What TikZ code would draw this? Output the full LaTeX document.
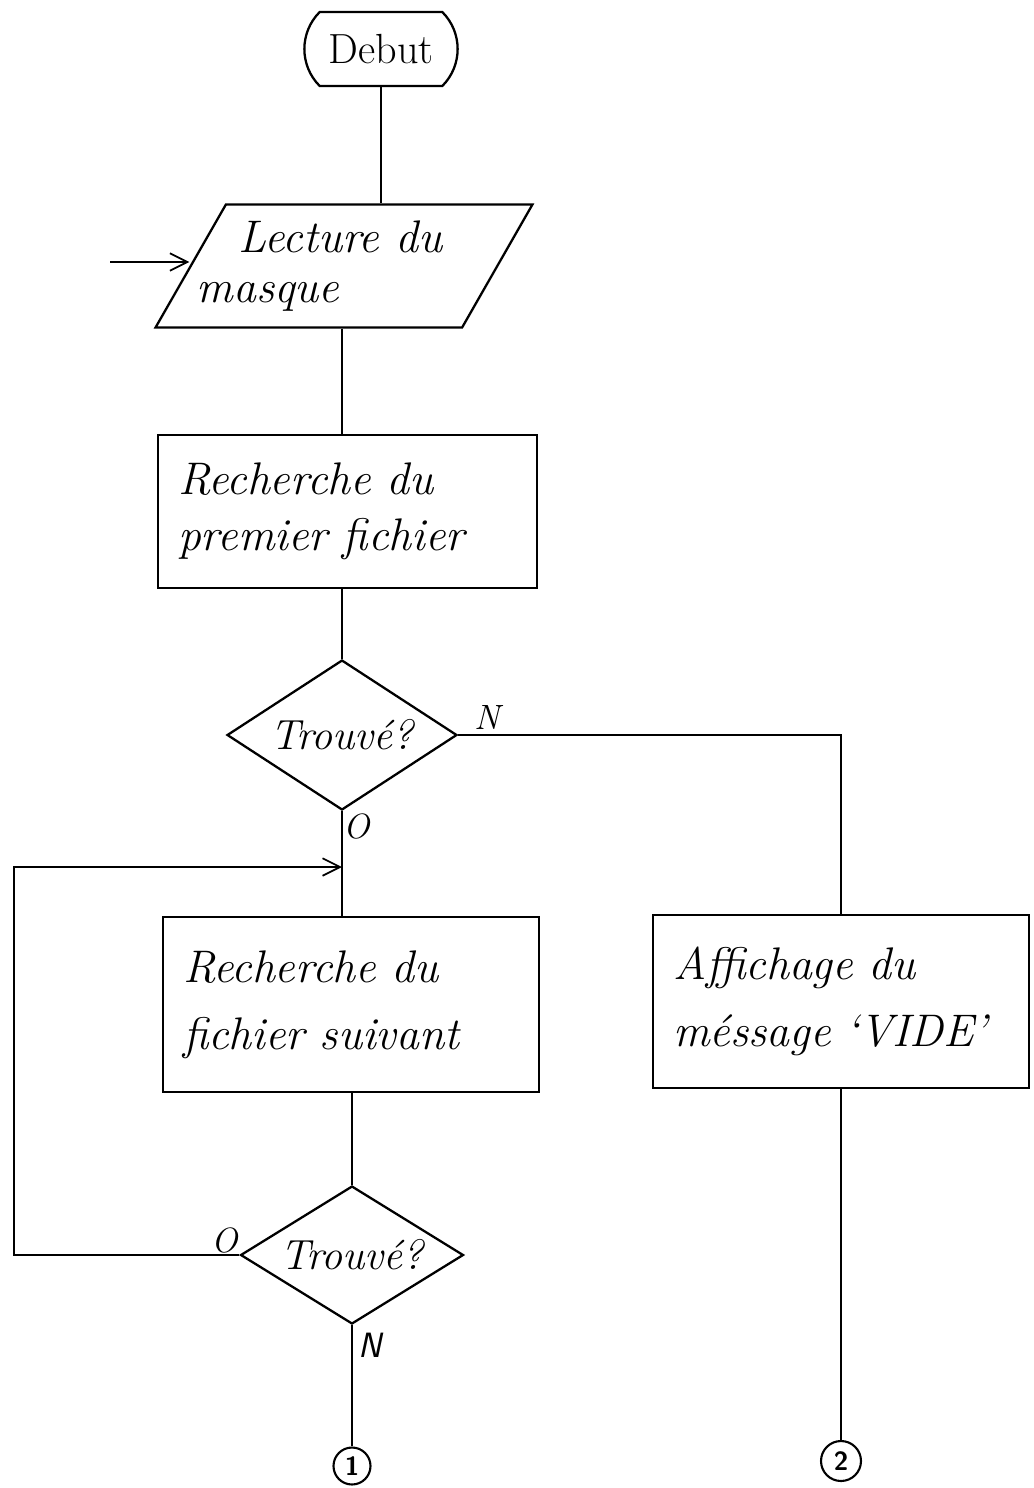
\documentclass[tikz,border=0pt]{standalone}
\usepackage{tikz}
\usetikzlibrary{arrows.meta, shapes.geometric, shapes.misc}

\begin{document}
\begin{tikzpicture}[x=0.02cm, y=-0.02cm, line width=1pt,
  boite/.style={draw, rectangle, line width=1.5pt, align=left, inner xsep=0.4cm, font=\fontsize{26}{32}\selectfont\itshape},
  test/.style={draw, diamond, line width=1.3pt, inner sep=0pt, font=\fontsize{24}{28}\selectfont\itshape},
  renvoi/.style={draw, circle, line width=1.2pt, inner sep=0pt, font=\sffamily\bfseries\fontsize{15}{17}\selectfont},
  etiq/.style={font=\fontsize{20}{24}\selectfont\itshape},
  fleche/.style={-{Straight Barb[length=3.5mm,width=3.5mm]}}]

\useasboundingbox (0,0) rectangle (1034,1488);

\node[draw, rounded rectangle, rounded rectangle arc length=90, line width=1.3pt, minimum width=3.3cm, minimum height=1.48cm, font=\fontsize{24}{28}\selectfont] (debut) at (381,49) {Debut};

\node[draw, trapezium, trapezium left angle=58.6, trapezium right angle=121.4, trapezium stretches=true, minimum width=7.56cm, minimum height=2.46cm, line width=1.3pt, align=left, font=\fontsize{26}{30}\selectfont\itshape] (lecture) at (344,266) {\hspace*{-4pt}Lecture du\\[-2pt]\hspace*{-28pt}masque};

\node[boite, text width=6.78cm, minimum height=3.06cm] (premier) at (347.5,511.5) {Recherche du\\premier fichier};
\node[test, aspect=1.53, minimum width=4.6cm, minimum height=3cm] (trouve1) at (342,735) {Trouvé?};

\node[boite, text width=6.72cm, minimum height=3.5cm] (suivant) at (351,1004.5) {Recherche du\\[6pt]fichier suivant};
\node[boite, text width=6.72cm, minimum height=3.46cm] (affichage) at (841,1001.5) {Affichage du\\[6pt]méssage `VIDE'};

\node[test, aspect=1.62, minimum width=4.46cm, minimum height=2.76cm] (trouve2) at (352,1255) {Trouvé?};

\node[renvoi, minimum size=0.74cm] (un) at (352,1466) {1};
\node[renvoi, minimum size=0.8cm] (deux) at (841,1461) {2};

\node[etiq] (n1) at (487,717) {N};
\node[etiq] (o1) at (357,826) {O};
\node[etiq] (o2) at (225,1240) {O};
\node[etiq, font=\sffamily\itshape\fontsize{20}{24}\selectfont] (n2) at (370,1345) {N};

\coordinate (entree) at (110,262);
\coordinate (boucle) at (14,867);

\draw (debut.south) -- (debut.south |- lecture.north);
\draw[fleche] (entree) -- (entree -| lecture.west);
\draw (trouve1.north |- lecture.south) -- (trouve1.north |- premier.north);
\draw (trouve1.north |- premier.south) -- (trouve1.north);
\draw (trouve1.south) -- (trouve1.south |- suivant.north);
\draw (trouve1.east) -| (affichage.north);
\draw (trouve2.north |- suivant.south) -- (trouve2.north);
\draw[fleche] (trouve2.west) -| (boucle) -- (boucle -| trouve1.south);
\draw (trouve2.south) -- (un);
\draw (affichage.south) -- (deux);
\end{tikzpicture}
\end{document}
